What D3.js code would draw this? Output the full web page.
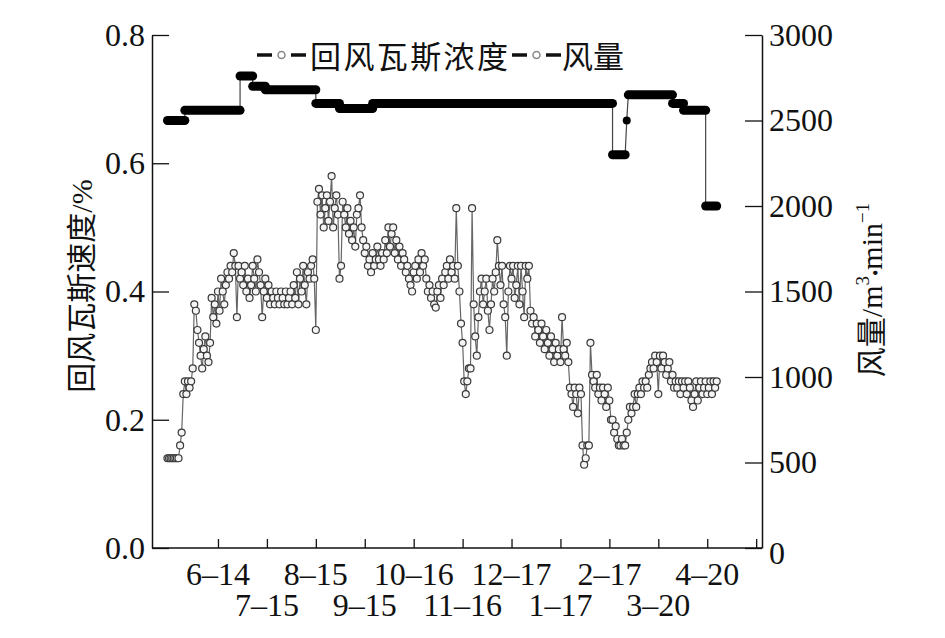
<!DOCTYPE html>
<html><head><meta charset="utf-8">
<script src="https://cdn.jsdelivr.net/npm/d3@7/dist/d3.min.js"></script>
<style>
body{margin:0;background:#fff}
text{font-family:"Liberation Serif","Noto Sans CJK SC",serif;fill:#111}
</style>
</head><body>
<svg id="c" width="945" height="638"></svg>
<script>
// ---- data ----
const tickDays   = [0,31,62,93,124,155,186,217,248,279,310,341];
const tickLabels = ["6–14","7–15","8–15","9–15","10–16","11–16","12–17","1–17","2–17","3–20","4–20",""];
const gasTicks   = [0,0.2,0.4,0.6,0.8];
const flowTicks  = [0,500,1000,1500,2000,2500,3000];
const seriesNames = ["回风瓦斯浓度","风量"];

const gasStartDay = -32;
const gasValues = [
0.14,0.14,0.14,0.14,0.14,0.14,0.14,0.14,0.16,0.18,
0.24,0.26,0.24,0.26,0.25,0.26,0.28,0.38,0.37,0.34,
0.32,0.30,0.28,0.31,0.33,0.30,0.29,0.32,0.39,0.36,
0.38,0.35,0.40,0.37,0.42,0.40,0.38,0.41,0.43,0.42,
0.44,0.43,0.46,0.44,0.36,0.44,0.42,0.43,0.41,0.44,
0.40,0.42,0.39,0.41,0.44,0.42,0.40,0.45,0.43,0.41,
0.36,0.40,0.42,0.39,0.41,0.38,0.40,0.39,0.38,0.40,
0.39,0.38,0.40,0.39,0.38,0.40,0.38,0.39,0.40,0.38,
0.41,0.39,0.43,0.38,0.42,0.40,0.44,0.41,0.38,0.43,
0.42,0.44,0.45,0.42,0.34,0.54,0.56,0.52,0.55,0.50,
0.53,0.55,0.51,0.54,0.58,0.50,0.53,0.55,0.52,0.42,
0.44,0.54,0.52,0.50,0.53,0.49,0.51,0.48,0.50,0.47,
0.52,0.53,0.55,0.50,0.48,0.46,0.47,0.44,0.45,0.43,
0.46,0.44,0.45,0.47,0.45,0.44,0.46,0.45,0.48,0.46,
0.50,0.47,0.49,0.50,0.46,0.48,0.45,0.47,0.44,0.46,
0.45,0.43,0.44,0.42,0.41,0.40,0.43,0.44,0.42,0.45,
0.43,0.46,0.44,0.45,0.42,0.40,0.41,0.39,0.40,0.38,
0.375,0.40,0.41,0.39,0.42,0.41,0.43,0.44,0.42,0.45,
0.43,0.44,0.42,0.53,0.44,0.40,0.35,0.32,0.26,0.24,
0.26,0.28,0.28,0.53,0.38,0.33,0.30,0.36,0.40,0.42,
0.38,0.40,0.42,0.37,0.34,0.38,0.42,0.40,0.43,0.48,
0.44,0.41,0.44,0.38,0.36,0.30,0.40,0.44,0.42,0.44,
0.39,0.41,0.44,0.38,0.44,0.40,0.36,0.44,0.42,0.44,
0.37,0.35,0.36,0.33,0.35,0.34,0.32,0.35,0.33,0.31,
0.34,0.32,0.30,0.33,0.31,0.29,0.32,0.30,0.31,0.29,
0.36,0.31,0.30,0.32,0.29,0.25,0.24,0.22,0.25,0.24,
0.21,0.25,0.24,0.16,0.13,0.14,0.16,0.16,0.32,0.27,
0.26,0.25,0.27,0.24,0.25,0.23,0.25,0.24,0.22,0.25,
0.23,0.20,0.20,0.18,0.19,0.17,0.16,0.16,0.17,0.16,
0.16,0.18,0.20,0.22,0.21,0.22,0.24,0.22,0.24,0.25,
0.24,0.26,0.25,0.26,0.25,0.27,0.28,0.29,0.28,0.30,
0.29,0.24,0.30,0.28,0.30,0.29,0.27,0.28,0.29,0.26,
0.27,0.25,0.26,0.25,0.26,0.24,0.26,0.25,0.26,0.24,
0.26,0.25,0.23,0.22,0.24,0.26,0.23,0.25,0.26,0.24,
0.25,0.26,0.24,0.25,0.26,0.24,0.26,0.25,0.26
];

// air flow: step levels (start day, end day, value)
const flowStart = [-32,-21,14,22,30,62,77,98,250,259,260,288,295,309];
const flowEnd   = [-21, 14,22,30,62,77,98,250,258,259,288,295,309,316];
const flowValue = [2500,2560,2760,2700,2680,2600,2570,2600,2300,2500,2650,2600,2560,2000];

// ---- layout ----
const L = 152, R = 762, T = 35, B = 548;
const svg = d3.select("#c");
const x = d3.scaleLinear().domain([-41.8, 344.7]).range([L, R]);
const yG = d3.scaleLinear().domain([0, 0.8]).range([B, T]);
const yF = d3.scaleLinear().domain([0, 3000]).range([B, T]);

// axes
const fs = 32;
const axL = svg.append("g").attr("transform", `translate(${L},0)`)
  .call(d3.axisLeft(yG).tickValues(gasTicks).tickFormat(d3.format(".1f")).tickSizeInner(-17).tickSizeOuter(0).tickPadding(7));
const axR = svg.append("g").attr("transform", `translate(${R},0)`)
  .call(d3.axisRight(yF).tickValues(flowTicks).tickFormat(d3.format("d")).tickSizeInner(-17).tickSizeOuter(0).tickPadding(7));
const axB = svg.append("g").attr("transform", `translate(0,${B})`)
  .call(d3.axisBottom(x).tickValues(tickDays).tickFormat("").tickSizeInner(-9).tickSizeOuter(0));
[axL, axR, axB].forEach(g => {
  g.selectAll(".domain").attr("stroke", "#111").attr("stroke-width", 1.5);
  g.selectAll(".tick line").attr("stroke", "#111").attr("stroke-width", 1.3);
  g.selectAll("text").attr("font-size", fs).attr("font-family", "Liberation Serif").attr("fill", "#111");
});
axB.select(".domain").attr("d", `M${L},0H${R}`);
axR.selectAll(".tick text").attr("dy", "0.32em");
axR.selectAll(".tick").filter(d => d === 0).select("text").attr("dy", "0.48em");

// two-row date labels
svg.append("g").selectAll("text").data(tickLabels.map((t, i) => ({t, d: tickDays[i], i})).filter(o => o.t))
  .join("text")
  .attr("x", o => x(o.d))
  .attr("y", o => o.i % 2 === 0 ? 585 : 616)
  .attr("text-anchor", "middle")
  .attr("font-size", fs)
  .text(o => o.t);

// axis titles
svg.append("text")
  .attr("transform", "translate(92,286) rotate(-90)")
  .attr("text-anchor", "middle").attr("font-size", 30)
  .text("回风瓦斯速度/%");
const rt = svg.append("text")
  .attr("transform", "translate(882,290) rotate(-90)")
  .attr("text-anchor", "middle").attr("font-size", 30);
rt.append("tspan").text("风量/m");
rt.append("tspan").attr("font-size", 19).attr("dy", -13).text("3");
rt.append("tspan").attr("dy", 13).text("•").attr("font-size", 18);
rt.append("tspan").text("min");
rt.append("tspan").attr("font-size", 19).attr("dy", -13).text("−1");

// gas series
const gasPts = gasValues.map((v, i) => [gasStartDay + i, v]);
svg.append("path")
  .attr("d", d3.line().x(p => x(p[0])).y(p => yG(p[1]))(gasPts))
  .attr("fill", "none").attr("stroke", "#666").attr("stroke-width", 1.2);
svg.append("g").selectAll("circle").data(gasPts).join("circle")
  .attr("cx", p => x(p[0])).attr("cy", p => yG(p[1])).attr("r", 3.5)
  .attr("fill", "#f4f4f4").attr("stroke", "#3a3a3a").attr("stroke-width", 1.2);

// flow series
const flowPts = [];
flowValue.forEach((v, i) => { flowPts.push([flowStart[i], v]); if (flowEnd[i] !== flowStart[i]) flowPts.push([flowEnd[i], v]); });
svg.append("path")
  .attr("d", d3.line().x(p => x(p[0])).y(p => yF(p[1]))(flowPts))
  .attr("fill", "none").attr("stroke", "#444").attr("stroke-width", 1.2);
const segs = flowValue.map((v, i) => ({s: flowStart[i], e: flowEnd[i], v}));
svg.append("g").selectAll("line").data(segs.filter(s => s.e > s.s)).join("line")
  .attr("x1", s => x(s.s)).attr("x2", s => x(s.e))
  .attr("y1", s => yF(s.v)).attr("y2", s => yF(s.v))
  .attr("stroke", "#000").attr("stroke-width", 9).attr("stroke-linecap", "round");
svg.append("g").selectAll("circle").data(segs.filter(s => s.e === s.s)).join("circle")
  .attr("cx", s => x(s.s)).attr("cy", s => yF(s.v)).attr("r", 4).attr("fill", "#000");

// legend
const lg = svg.append("g");
const legendItems = [{x0: 257, tx: 310, name: seriesNames[0], ls: 2.4}, {x0: 512, tx: 562, name: seriesNames[1], ls: 0}];
legendItems.forEach(it => {
  lg.append("line").attr("x1", it.x0).attr("x2", it.x0 + 15).attr("y1", 55).attr("y2", 55).attr("stroke", "#111").attr("stroke-width", 3.5);
  lg.append("line").attr("x1", it.x0 + 34).attr("x2", it.x0 + 49).attr("y1", 55).attr("y2", 55).attr("stroke", "#111").attr("stroke-width", 3.5);
  lg.append("circle").attr("cx", it.x0 + 24.5).attr("cy", 55).attr("r", 3.5).attr("fill", "#fff").attr("stroke", "#888").attr("stroke-width", 1.5);
  lg.append("text").attr("x", it.tx).attr("y", 57).attr("dominant-baseline", "central").attr("font-size", 31)
    .attr("letter-spacing", it.ls).text(it.name);
});
</script>
</body></html>
